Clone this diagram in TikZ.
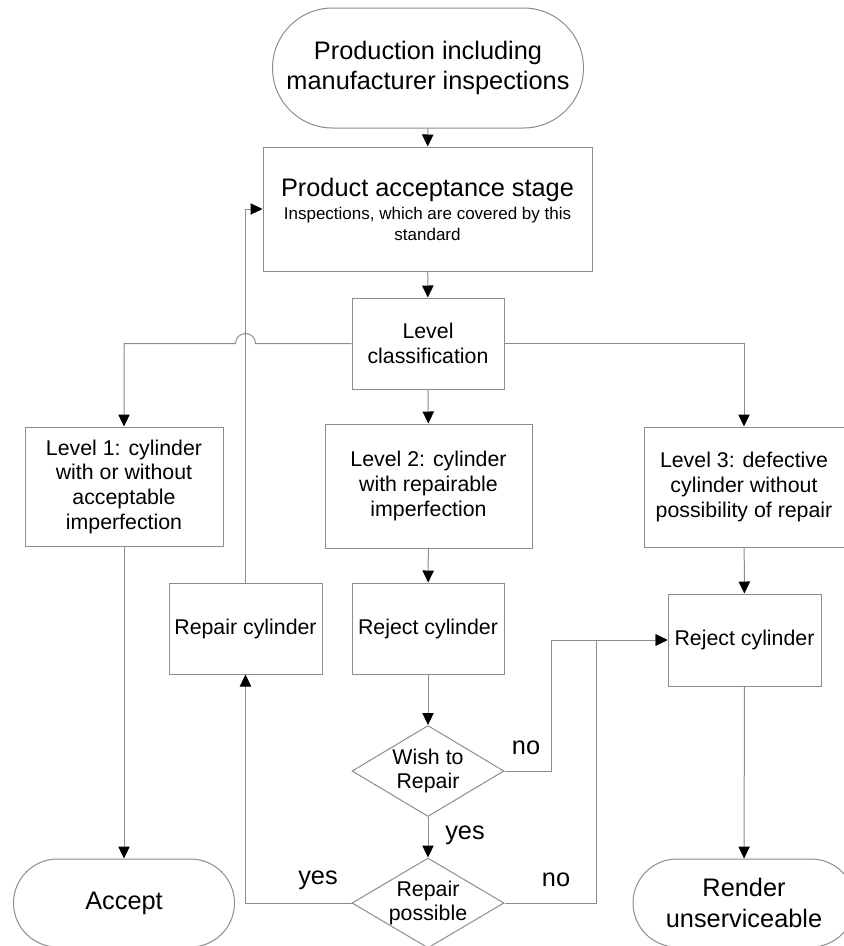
\documentclass[tikz,border=0pt]{standalone}
\usepackage{fontspec}
\setmainfont{Liberation Sans}
\usepackage{tikz}
\usetikzlibrary{shapes.geometric}
\usetikzlibrary{arrows.meta}

\definecolor{linegray}{RGB}{140,140,140}
\newcommand{\bigtext}{\fontsize{19pt}{23pt}\selectfont}
\newcommand{\midtext}{\fontsize{16pt}{18.5pt}\selectfont}
\newcommand{\smalltext}{\fontsize{12.75pt}{15.5pt}\selectfont}

\tikzset{
  proc/.style={draw=linegray, line width=0.75pt, rectangle, align=center, inner sep=0pt, font=\midtext},
  term/.style={draw=linegray, line width=0.75pt, rectangle, rounded corners=#1, align=center, inner sep=0pt, font=\bigtext},
  decide/.style={draw=linegray, line width=0.75pt, diamond, align=center, inner sep=-8pt, font=\midtext},
  conn/.style={draw=linegray, line width=0.75pt, -{Triangle[length=9pt,width=8.5pt,color=black]}},
  lab/.style={font=\bigtext, inner sep=0pt}
}

\begin{document}
\begin{tikzpicture}[x=0.75pt, y=-0.75pt]
                \useasboundingbox (0,0) rectangle (843,946);
                % top of the chart
                \node[term=45pt, minimum width=233.25pt, minimum height=90pt] (prod) at (428,68) {Production including\\manufacturer inspections};
                \node[proc, font=\smalltext, minimum width=246.75pt, minimum height=93pt] (stage) at (427.5,209) {\bigtext Product acceptance stage\\[2pt]\smalltext Inspections, which are covered by this\\\smalltext standard};
                \node[proc, minimum width=114pt, minimum height=68.25pt] (class) at (428,343.5) {Level\\classification};
                % the three levels
                \node[proc, minimum width=148.5pt, minimum height=89.25pt] (lvl1) at (124,486.5) {Level 1: cylinder\\with or without\\acceptable\\imperfection};
                \node[proc, minimum width=155.25pt, minimum height=93pt] (lvl2) at (428.5,486) {Level 2: cylinder\\with repairable\\imperfection};
                \node[proc, minimum width=150pt, minimum height=90pt] (lvl3) at (744,487) {Level 3: defective\\cylinder without\\possibility of repair};
                \node[proc, minimum width=114.75pt, minimum height=68.25pt] (repair) at (245.5,628.5) {Repair cylinder};
                \node[proc, minimum width=114pt, minimum height=68.25pt] (reject2) at (428,628.5) {Reject cylinder};
                \node[proc, minimum width=114.75pt, minimum height=69pt] (reject3) at (744.5,640) {Reject cylinder};
                \node[decide, minimum width=114pt, minimum height=68.25pt] (wish) at (428,771) {Wish to\\Repair};
                \node[decide, minimum width=114pt, minimum height=67.5pt] (possible) at (428,903) {Repair\\possible};
                \node[term=33pt, minimum width=165.75pt, minimum height=66pt] (accept) at (124,903) {Accept};
                \node[term=33pt, minimum width=166.5pt, minimum height=66pt] (render) at (744,903) {Render\\unserviceable};
                % connectors
                \draw[conn] (prod) -- (stage);
                \draw[conn] (stage) -- (class);
                \draw[conn] (class) -- (lvl2);
                \draw[conn] (class.east) -| (lvl3.north);
                \draw[conn] (class.west) -- ([xshift=7.5pt]repair.north |- class.west) arc[start angle=0, end angle=180, radius=7.5pt] -| (lvl1.north);
                \draw[conn] (lvl1) -- (accept);
                \draw[conn] (lvl2) -- (reject2);
                \draw[conn] (reject2) -- (wish);
                \draw[conn] (wish) -- (possible);
                \draw[conn] (lvl3) -- (reject3);
                \draw[conn] (reject3) -- (render);
                \draw[conn] (wish.east) -- ++(47,0) |- (reject3.west);
                \draw[conn] (possible.east) -- ++(92,0) |- (reject3.west);
                \draw[conn] (possible.west) -| (repair.south);
                \draw[conn] (repair.north) |- (stage.west);
                % answers
                \node[lab] (wishno) at (526,748) {no};
                \node[lab] (wishyes) at (465,835) {yes};
                \node[lab] (possyes) at (318,880) {yes};
                \node[lab] (possno) at (556,880) {no};
            \end{tikzpicture}
\end{document}
